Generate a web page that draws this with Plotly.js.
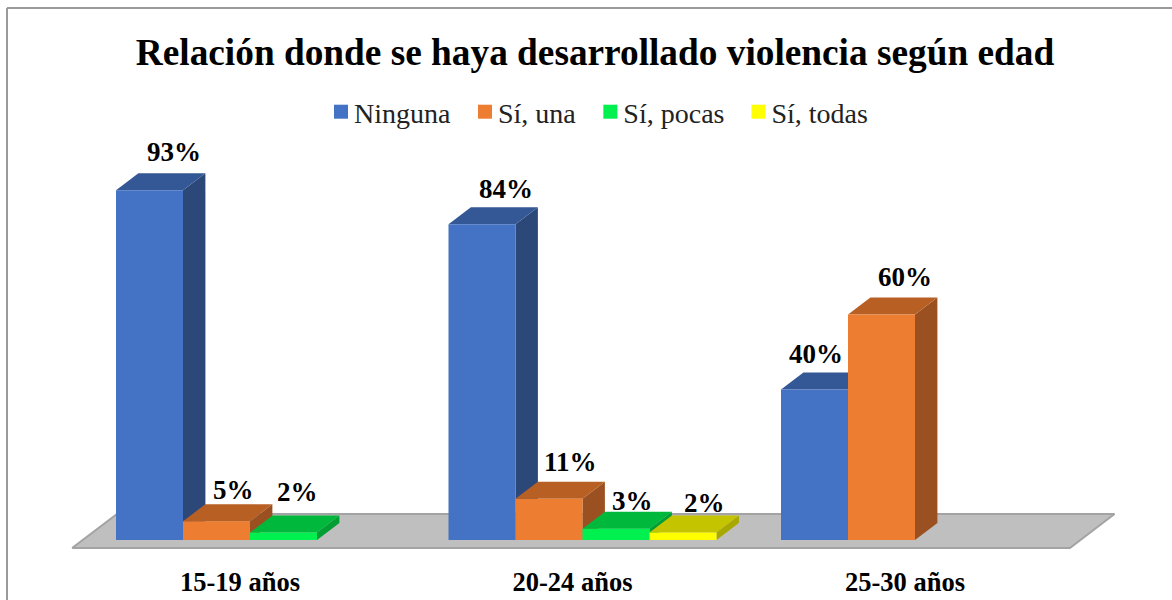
<!DOCTYPE html>
<html>
<head>
<meta charset="utf-8">
<script src="https://cdn.plot.ly/plotly-3.0.1.min.js"></script>
<style>html,body{margin:0;padding:0;background:#fff;overflow:hidden}#chart{width:1172px;height:600px}</style>
</head>
<body>
<div id="chart"></div>
<script>
var categories = ['15-19 años', '20-24 años', '25-30 años'];
var ninguna = [93, 84, 40];
var siUna = [5, 11, 60];
var siPocas = [2, 3, null];
var siTodas = [null, 2, null];
var seriesNames = ['Ninguna', 'Sí, una', 'Sí, pocas', 'Sí, todas'];
var frontColors = ['#4472C4', '#ED7D31', '#00F04F', '#FFFF00'];
var topColors = ['#345896', '#B85F24', '#00B83B', '#C4C400'];
var sideColors = ['#2C4878', '#9A5020', '#009E33', '#A8A800'];
var labelShiftX = [[24, 16.5, 14, 0], [24, 21, 16, 21.5], [1, 23, 0, 0]];
var labelShiftY = [[38, 31, 40, 0], [35, 37, 28, 29], [36, 37, 0, 0]];

var seriesValues = [ninguna, siUna, siPocas, siTodas];
var FONT = 'Liberation Serif';
var PX_PER_CAT = 332.5, PX_PER_PCT = 3.76;
var X0_PX = 250, Y0_PX = 540, PLOT_H = 552;
var gap = 1 - 4 * 67 / PX_PER_CAT, w = (1 - gap) / 4;
var dx = 22.4 / PX_PER_CAT, dy = 17 / PX_PER_PCT;
var catIdx = categories.map(function (_, i) { return i; });
var xRange = [-X0_PX / PX_PER_CAT, (1172 - X0_PX) / PX_PER_CAT];
var yRange = [(Y0_PX - PLOT_H) / PX_PER_PCT, Y0_PX / PX_PER_PCT];

function face(xs, ys, color) {
  return {type: 'scatter', mode: 'lines', x: xs, y: ys, fill: 'toself', fillcolor: color,
    line: {width: 0, color: color}, showlegend: false, hoverinfo: 'skip', xaxis: 'x', yaxis: 'y'};
}

var traces = [];
// floor
traces.push({type: 'scatter', mode: 'lines', x: [-0.535, 2.466, 2.6, -0.4, -0.535], y: [-2.13, -2.13, 6.9, 6.9, -2.13],
  fill: 'toself', fillcolor: '#BFBFBF', line: {width: 2, color: '#A3A3A3'}, showlegend: false, hoverinfo: 'skip', xaxis: 'x', yaxis: 'y'});
// depth faces, drawn left to right
catIdx.forEach(function (c) {
  seriesValues.forEach(function (vals, s) {
    var v = vals[c];
    if (v === null) return;
    var l = c + (s - 2) * w, r = l + w;
    traces.push(face([r, r + dx, r + dx, r, r], [0, dy, v + dy, v, 0], sideColors[s]));
    traces.push(face([l, l + dx, r + dx, r, l], [v, v + dy, v + dy, v, v], topColors[s]));
  });
});
// front faces
seriesValues.forEach(function (vals, s) {
  traces.push({type: 'bar', name: seriesNames[s], x: catIdx, y: vals, xaxis: 'x2', yaxis: 'y2',
    marker: {color: frontColors[s], line: {width: 0}}, hoverinfo: 'name+y'});
});

var annotations = [];
seriesValues.forEach(function (vals, s) {
  vals.forEach(function (v, c) {
    if (v === null) return;
    annotations.push({xref: 'x', yref: 'y', x: c + (s - 1.5) * w, y: v, text: v + '%', showarrow: false,
      xanchor: 'center', yanchor: 'middle', xshift: labelShiftX[c][s], yshift: labelShiftY[c][s],
      font: {family: FONT, size: 27, color: '#000', weight: 700}});
  });
});

var borderColor = '#9A9A9A';
var layout = {
  width: 1172, height: 600,
  margin: {l: 0, r: 0, t: 0, b: 600 - PLOT_H, pad: 0},
  paper_bgcolor: '#fff', plot_bgcolor: 'rgba(0,0,0,0)',
  title: {text: 'Relación donde se haya desarrollado violencia según edad', x: 595 / 1172, xanchor: 'center',
    y: 1 - 52 / 600, yanchor: 'middle', yref: 'container', font: {family: FONT, size: 37.3, color: '#000', weight: 700}},
  barmode: 'group', bargap: gap, bargroupgap: 0,
  xaxis: {type: 'linear', range: xRange, tickvals: catIdx.map(function (c) { return c - 10 / PX_PER_CAT; }), ticktext: categories,
    ticks: 'outside', ticklen: 6, tickcolor: 'rgba(0,0,0,0)', showgrid: false, zeroline: false, showline: false,
    tickfont: {family: FONT, size: 26.5, color: '#000', weight: 700}, automargin: false},
  yaxis: {range: yRange, visible: false, showgrid: false, zeroline: false},
  xaxis2: {type: 'linear', range: xRange, overlaying: 'x', visible: false, anchor: 'y2'},
  yaxis2: {range: yRange, overlaying: 'y', visible: false, anchor: 'x2'},
  legend: {orientation: 'h', x: 312 / 1172, xanchor: 'left', y: 1 - 87 / PLOT_H, yanchor: 'top', itemwidth: 32,
    font: {family: FONT, size: 28, color: '#222'}, traceorder: 'normal', itemclick: false, bgcolor: 'rgba(0,0,0,0)'},
  shapes: [
    {type: 'line', xref: 'paper', yref: 'paper', x0: 7 / 1172, x1: 7 / 1172, y0: -0.1, y1: 1 - 8 / PLOT_H, line: {color: borderColor, width: 2}, layer: 'below'},
    {type: 'line', xref: 'paper', yref: 'paper', x0: 7 / 1172, x1: 1, y0: 1 - 8 / PLOT_H, y1: 1 - 8 / PLOT_H, line: {color: borderColor, width: 2}, layer: 'below'}
  ],
  annotations: annotations,
  showlegend: true
};
Plotly.newPlot('chart', traces, layout, {displayModeBar: false}).then(function (gd) {
  // legend swatches: 14px squares sitting close to their labels
  gd.querySelectorAll('.legend .legendpoints path').forEach(function (p) {
    p.setAttribute('d', 'M7,7H-7V-7H7Z');
    p.setAttribute('transform', 'translate(29,0)');
  });
});
</script>
</body>
</html>
